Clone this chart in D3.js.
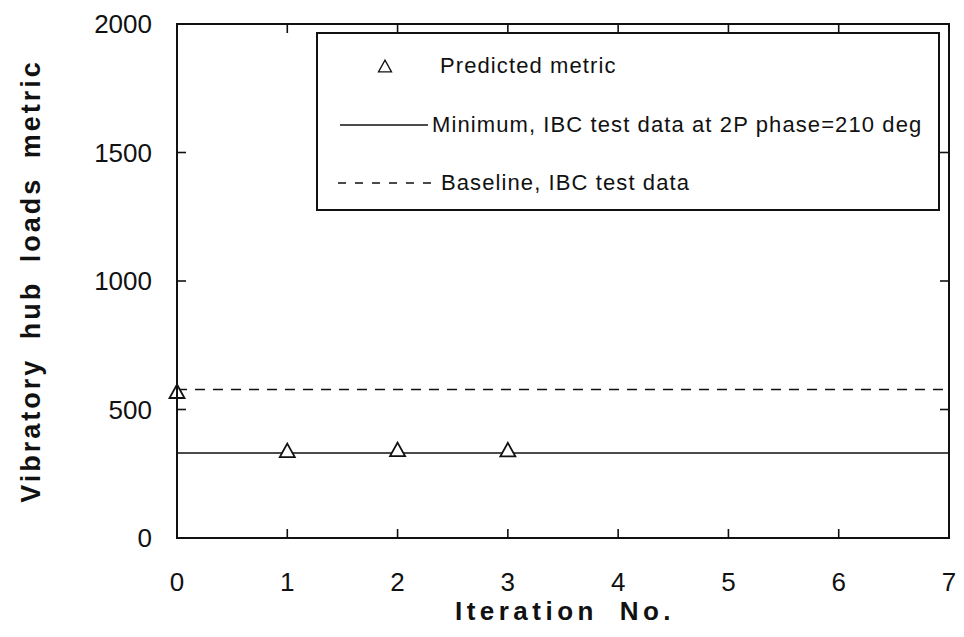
<!DOCTYPE html>
<html lang="en">
<head>
  <meta charset="UTF-8">
  <title>Vibratory hub loads metric vs iteration</title>
  <script src="https://d3js.org/d3.v7.min.js"></script>
  <style>
    body {
      margin: 0;
      background: #fff;
      font-family: "Liberation Sans", Arial, Helvetica, sans-serif;
    }
    .tick-label {
      font-size: 26px;
      fill: #111;
    }
    .axis-title {
      font-size: 26px;
      font-weight: bold;
      fill: #111;
      letter-spacing: 4.5px;
      word-spacing: 10px;
    }
    .y-title {
      font-size: 27px;
      letter-spacing: 3px;
      word-spacing: 8px;
    }
    .legend-text {
      font-size: 22px;
      fill: #111;
      letter-spacing: 1.1px;
    }
  </style>
</head>
<body>
  <svg id="chart" width="964" height="637"></svg>

  <script>
    // Data
    const iterations = [0, 1, 2, 3];
    const predictedMetric = [571, 341, 345, 344];
    const minimumIBC = 331;   // solid line
    const baselineIBC = 578;  // dashed line
    const xTicks = [0, 1, 2, 3, 4, 5, 6, 7];
    const yTicks = [0, 500, 1000, 1500, 2000];
    const legendLabels = [
      "Predicted metric",
      "Minimum, IBC test data at 2P phase=210 deg",
      "Baseline, IBC test data"
    ];

    const plot = {left: 177, right: 949, top: 24, bottom: 538};
    const svg = d3.select("#chart");

    const x = d3.scaleLinear().domain([0, 7]).range([plot.left, plot.right]);
    const y = d3.scaleLinear().domain([0, 2000]).range([plot.bottom, plot.top]);

    // Reference lines
    svg.append("line")
      .attr("x1", x(0)).attr("x2", x(7))
      .attr("y1", y(minimumIBC)).attr("y2", y(minimumIBC))
      .attr("stroke", "#111").attr("stroke-width", 1.6);

    svg.append("line")
      .attr("x1", x(0)).attr("x2", x(7))
      .attr("y1", y(baselineIBC)).attr("y2", y(baselineIBC))
      .attr("stroke", "#111").attr("stroke-width", 1.6)
      .attr("stroke-dasharray", "10,8");

    // Triangle markers
    const tri = (cx, cy, s) => {
      const h = s * 0.9;
      return `M${cx},${cy - h / 2}L${cx + s / 2},${cy + h / 2}L${cx - s / 2},${cy + h / 2}Z`;
    };

    svg.selectAll(".marker")
      .data(iterations.map((it, i) => ({it, v: predictedMetric[i]})))
      .enter()
      .append("path")
      .attr("class", "marker")
      .attr("d", d => tri(x(d.it), y(d.v), 15))
      .attr("fill", "#fff")
      .attr("stroke", "#111")
      .attr("stroke-width", 1.8);

    // Frame
    svg.append("rect")
      .attr("x", plot.left).attr("y", plot.top)
      .attr("width", plot.right - plot.left)
      .attr("height", plot.bottom - plot.top)
      .attr("fill", "none").attr("stroke", "#111").attr("stroke-width", 2);

    // Inward ticks on all four sides
    const tickLen = 9;
    const g = svg.append("g").attr("stroke", "#111").attr("stroke-width", 1.6);
    xTicks.forEach(t => {
      g.append("line").attr("x1", x(t)).attr("x2", x(t))
        .attr("y1", plot.bottom).attr("y2", plot.bottom - tickLen);
      g.append("line").attr("x1", x(t)).attr("x2", x(t))
        .attr("y1", plot.top).attr("y2", plot.top + tickLen);
    });
    yTicks.forEach(t => {
      g.append("line").attr("x1", plot.left).attr("x2", plot.left + tickLen)
        .attr("y1", y(t)).attr("y2", y(t));
      g.append("line").attr("x1", plot.right).attr("x2", plot.right - tickLen)
        .attr("y1", y(t)).attr("y2", y(t));
    });

    // Tick labels
    svg.selectAll(".xlab")
      .data(xTicks)
      .enter()
      .append("text")
      .attr("class", "tick-label")
      .attr("x", d => x(d))
      .attr("y", 591)
      .attr("text-anchor", "middle")
      .text(d => d);

    svg.selectAll(".ylab")
      .data(yTicks)
      .enter()
      .append("text")
      .attr("class", "tick-label")
      .attr("x", 152)
      .attr("y", d => y(d) + 9)
      .attr("text-anchor", "end")
      .text(d => d);

    // Axis titles
    svg.append("text")
      .attr("class", "axis-title")
      .attr("x", (plot.left + plot.right) / 2 + 2)
      .attr("y", 620)
      .attr("text-anchor", "middle")
      .text("Iteration No.");

    svg.append("text")
      .attr("class", "axis-title y-title")
      .attr("transform", `translate(40,${(plot.top + plot.bottom) / 2}) rotate(-90)`)
      .attr("text-anchor", "middle")
      .text("Vibratory hub loads metric");

    // Legend
    const leg = svg.append("g");
    leg.append("rect")
      .attr("x", 317).attr("y", 33)
      .attr("width", 939 - 317).attr("height", 210 - 33)
      .attr("fill", "#fff").attr("stroke", "#111").attr("stroke-width", 2);

    leg.append("path")
      .attr("d", tri(385, 66, 13))
      .attr("fill", "none").attr("stroke", "#111").attr("stroke-width", 1.3);
    leg.append("line")
      .attr("x1", 340).attr("x2", 428).attr("y1", 125).attr("y2", 125)
      .attr("stroke", "#111").attr("stroke-width", 1.5);
    leg.append("line")
      .attr("x1", 338).attr("x2", 432).attr("y1", 183).attr("y2", 183)
      .attr("stroke", "#111").attr("stroke-width", 1.5)
      .attr("stroke-dasharray", "8,9");

    const legY = [73, 132, 190];
    const legX = [440, 432, 441];
    legendLabels.forEach((t, i) => {
      leg.append("text")
        .attr("class", "legend-text")
        .attr("x", legX[i]).attr("y", legY[i])
        .text(t);
    });
  </script>
</body>
</html>
